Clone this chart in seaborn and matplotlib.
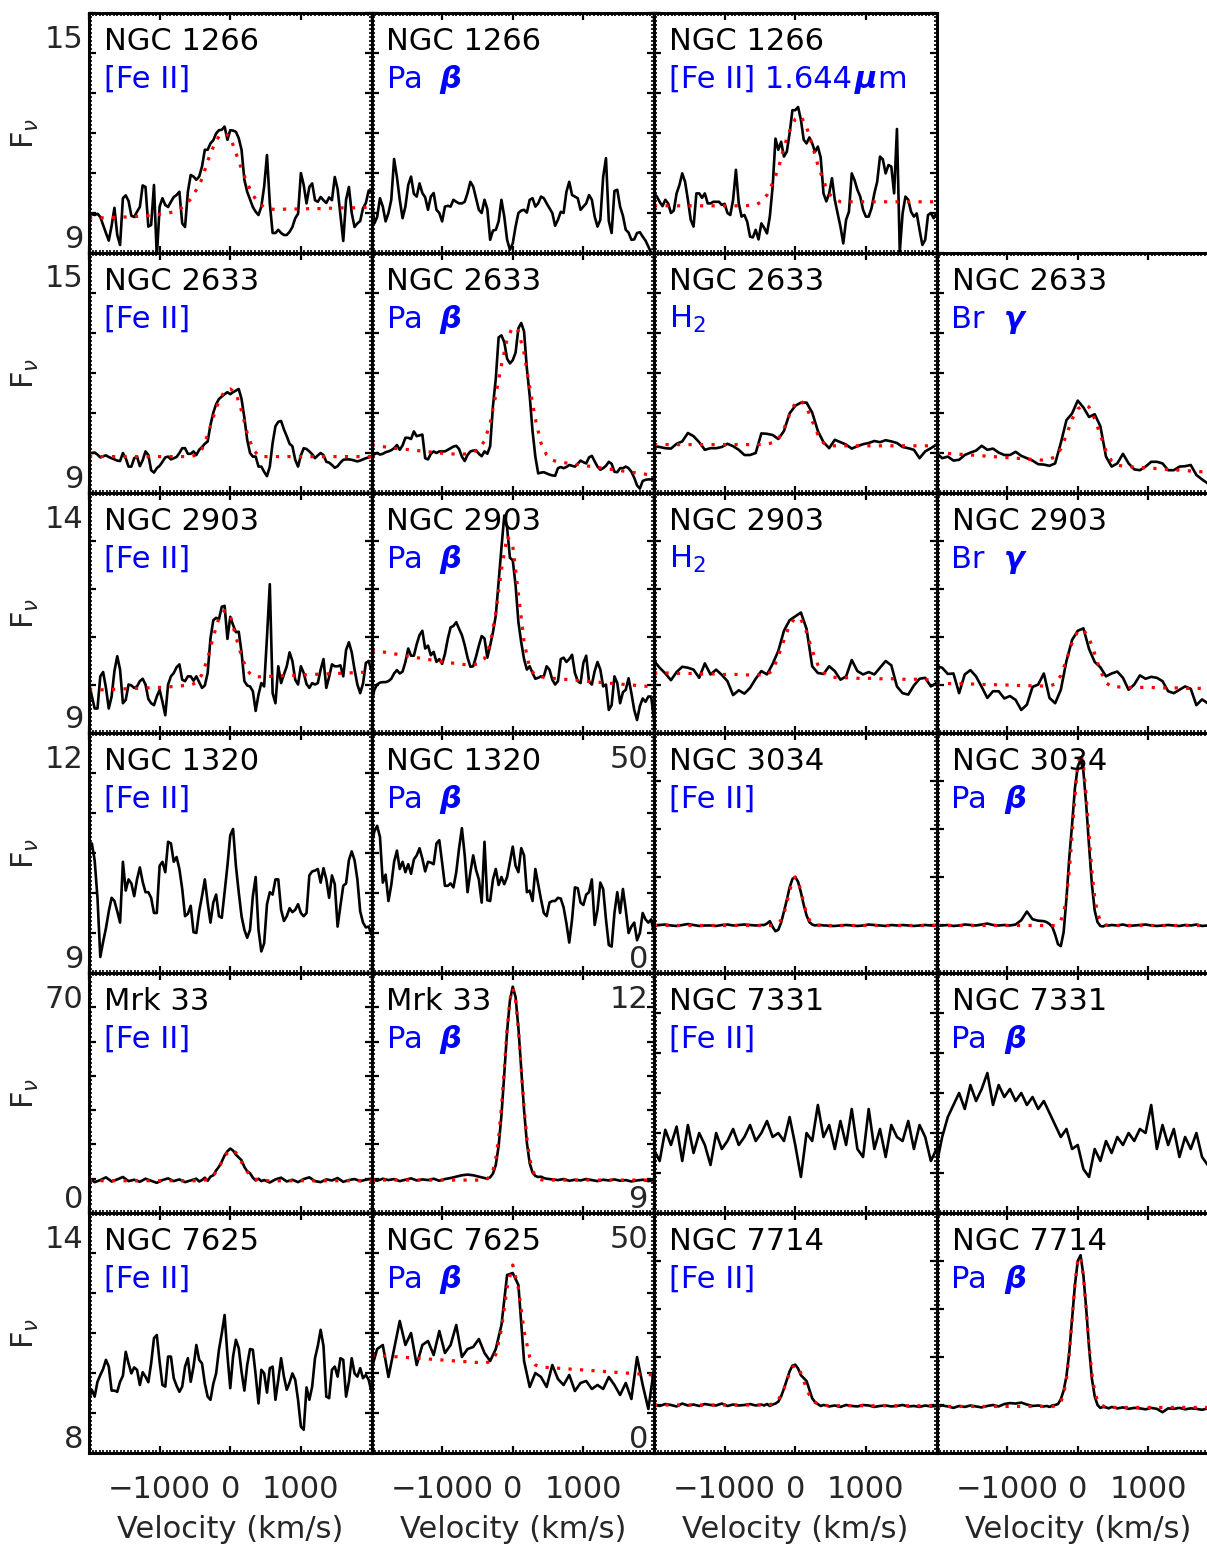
import matplotlib
matplotlib.use("Agg")
import matplotlib.pyplot as plt
from matplotlib.ticker import MultipleLocator, AutoMinorLocator
import seaborn as sns

# =========================
# DATA (velocity grids, km/s)
# =========================
VEL = [-2000, -1920, -1840, -1760, -1680, -1600, -1520, -1440, -1360, -1280,
       -1200, -1120, -1040, -960, -880, -800, -720, -640, -560, -480,
       -400, -320, -240, -160, -80, 0, 80, 160, 240, 320,
       400, 480, 560, 640, 720, 800, 880, 960, 1040, 1120,
       1200, 1280, 1360, 1440, 1520, 1600, 1680, 1760, 1840, 1920, 2000]

VEL40 = [-2000, -1960, -1920, -1880, -1840, -1800, -1760, -1720, -1680, -1640,
         -1600, -1560, -1520, -1480, -1440, -1400, -1360, -1320, -1280, -1240,
         -1200, -1160, -1120, -1080, -1040, -1000, -960, -920, -880, -840,
         -800, -760, -720, -680, -640, -600, -560, -520, -480, -440,
         -400, -360, -320, -280, -240, -200, -160, -120, -80, -40,
         0, 40, 80, 120, 160, 200, 240, 280, 320, 360,
         400, 440, 480, 520, 560, 600, 640, 680, 720, 760,
         800, 840, 880, 920, 960, 1000, 1040, 1080, 1120, 1160,
         1200, 1240, 1280, 1320, 1360, 1400, 1440, 1480, 1520, 1560,
         1600, 1640, 1680, 1720, 1760, 1800, 1840, 1880, 1920, 1960, 2000]

VEL_FINE = [-2000, -1920, -1840, -1760, -1680, -1600, -1520, -1440, -1360, -1280,
            -1200, -1120, -1040, -960, -880, -800, -720, -640, -560, -480,
            -440, -400, -360, -320, -280, -240, -200, -160, -120, -80, -40,
            0, 40, 80, 120, 160, 200, 240, 280, 320, 360, 400, 440,
            480, 560, 640, 720, 800, 880, 960, 1040, 1120, 1200, 1280,
            1360, 1440, 1520, 1600, 1680, 1760, 1840, 1920, 2000]

# --- NGC 1266 ---
N1266_FE = [9.95, 9.97, 9.95, 9.98, 9.9, 9.7, 9.5, 9.31, 9.68, 10.13,
            9.45, 9.2, 10.37, 10.44, 10.3, 9.93, 9.9, 10.03, 10.15, 10.69,
            10.65, 9.66, 9.7, 10.7, 8.9, 10.16, 10.37, 10.2, 10.15, 10.28,
            10.4, 10.45, 10.53, 9.74, 9.65, 10.53, 10.95, 10.91, 10.83, 10.91,
            11.16, 11.58, 11.58, 11.74, 11.82, 11.99, 12.07, 12.08, 12.16, 11.83,
            12.07, 12.06, 12.03, 11.87, 11.58, 10.83, 10.53, 10.34, 10.15, 10.03,
            9.95, 10.16, 10.66, 11.45, 10.24, 9.5, 9.5, 9.58, 9.5, 9.45,
            9.45, 9.53, 9.65, 9.87, 9.98, 11.0, 10.7, 10.24, 10.65, 10.74,
            10.32, 10.28, 10.4, 10.32, 10.25, 10.39, 10.32, 10.9, 10.6, 9.95,
            9.3, 10.33, 10.65, 10.0, 9.65, 9.74, 9.8, 10.12, 10.25, 10.56,
            10.53]
N1266_FE_FIT = [9.87, 9.87, 9.88, 9.88, 9.89, 9.89, 9.9, 9.9, 9.91, 9.92, 9.93, 9.95, 9.96, 9.98,
                10.0, 10.03, 10.1, 10.18, 10.35, 10.58, 10.85, 11.3, 11.65, 11.92, 12.0, 11.9, 11.5,
                11.1, 10.75, 10.45, 10.25, 10.15, 10.1, 10.09, 10.09, 10.1, 10.1, 10.1, 10.1, 10.11,
                10.11, 10.11, 10.12, 10.12, 10.12, 10.13, 10.13, 10.13, 10.14, 10.14, 10.14]
N1266_PAB = [10.41, 9.74, 9.9, 10.37, 10.16, 9.79, 10.0, 10.33, 11.35, 10.9,
             10.33, 9.87, 10.16, 10.7, 10.91, 10.48, 10.41, 10.74, 10.5, 10.39,
             10.08, 10.41, 10.5, 10.08, 10.0, 9.79, 10.16, 10.18, 10.16, 10.33,
             10.28, 10.24, 10.24, 10.28, 10.5, 10.78, 10.66, 10.37, 10.08, 10.0,
             10.33, 10.1, 9.33, 9.56, 9.58, 9.79, 10.33, 9.91, 9.33, 9.08,
             9.24, 9.66, 10.0, 10.06, 10.08, 10.01, 10.33, 10.37, 10.16, 10.24,
             10.41, 10.37, 10.24, 10.12, 10.0, 9.68, 9.83, 10.03, 10.0, 10.53,
             10.78, 10.45, 10.41, 10.37, 10.08, 10.16, 10.24, 10.45, 10.33, 9.91,
             9.66, 9.83, 10.9, 11.37, 9.8, 9.5, 10.55, 10.58, 10.16, 9.93,
             9.58, 9.51, 9.33, 9.34, 9.5, 9.52, 9.41, 9.31, 9.16, 9.0,
             8.95]
N1266_FE16 = [10.49, 10.41, 10.28, 10.17, 10.33, 10.24, 10.0, 10.06, 10.49, 10.7,
              10.99, 10.78, 10.33, 9.83, 9.66, 10.49, 10.49, 10.38, 10.49, 10.24,
              10.24, 10.28, 10.28, 10.28, 10.2, 10.23, 10.0, 9.95, 10.33, 11.08,
              10.24, 9.91, 9.95, 9.78, 9.41, 9.39, 9.58, 9.34, 9.74, 9.63,
              9.49, 9.91, 10.66, 11.86, 11.58, 11.78, 11.41, 11.53, 11.99, 12.57,
              12.57, 12.65, 12.33, 11.83, 11.74, 11.89, 11.74, 11.53, 11.66, 11.39,
              10.49, 10.29, 10.49, 10.87, 10.33, 9.99, 9.66, 9.24, 9.83, 10.03,
              10.99, 10.82, 10.58, 10.41, 10.08, 9.91, 9.91, 10.12, 10.49, 10.78,
              11.41, 11.34, 10.99, 11.2, 11.16, 10.49, 12.1, 9.03, 9.99, 10.41,
              10.33, 10.03, 9.91, 9.99, 9.58, 9.2, 9.33, 9.95, 10.0, 9.87,
              10.0]
N1266_FE16_FIT = [10.18, 10.18, 10.18, 10.18, 10.18, 10.18, 10.18, 10.18, 10.18, 10.18, 10.18, 10.18,
                  10.18, 10.18, 10.18, 10.18, 10.18, 10.19, 10.2, 10.28, 10.45, 10.75, 11.1, 11.65,
                  12.05, 12.35, 12.42, 12.15, 11.7, 11.2, 10.8, 10.48, 10.35, 10.28, 10.28, 10.28,
                  10.28, 10.28, 10.28, 10.28, 10.28, 10.28, 10.28, 10.28, 10.28, 10.28, 10.28, 10.28,
                  10.28, 10.28, 10.28]

# --- NGC 2633 ---
N2633_FE = [10.0, 10.0, 10.01, 9.96, 9.89, 9.92, 9.94, 9.9, 9.87, 9.84,
            9.81, 9.8, 10.0, 9.87, 9.66, 9.66, 9.87, 9.91, 9.67, 9.82,
            10.04, 9.95, 9.57, 9.51, 9.62, 9.68, 9.78, 9.89, 9.91, 9.84,
            9.87, 9.9, 10.0, 10.12, 10.12, 9.98, 9.98, 10.04, 9.95, 10.08,
            10.15, 10.23, 10.29, 10.7, 11.01, 11.22, 11.35, 11.41, 11.47, 11.52,
            11.47, 11.52, 11.56, 11.6, 11.35, 10.88, 10.33, 10.0, 9.91, 9.91,
            9.66, 9.66, 9.53, 9.42, 9.66, 10.25, 10.67, 10.78, 10.8, 10.59,
            10.42, 10.23, 10.17, 9.83, 9.66, 9.94, 10.12, 10.1, 10.04, 9.97,
            9.87, 9.94, 10.0, 9.95, 9.78, 9.76, 9.7, 9.63, 9.67, 9.76,
            9.83, 9.84, 9.84, 9.83, 9.81, 9.79, 9.81, 9.84, 9.87, 9.89,
            9.91]
N2633_FE_FIT = [9.91, 9.91, 9.91, 9.91, 9.91, 9.91, 9.91, 9.91, 9.91, 9.91, 9.91, 9.91, 9.91, 9.91,
                9.91, 9.91, 9.91, 9.91, 9.91, 9.95, 10.1, 10.45, 10.9, 11.3, 11.55, 11.6, 11.5, 11.05,
                10.5, 10.1, 9.93, 9.91, 9.91, 9.91, 9.91, 9.91, 9.91, 9.91, 9.91, 9.91, 9.91, 9.91,
                9.91, 9.91, 9.91, 9.91, 9.91, 9.91, 9.91, 9.91, 9.91]
N2633_PAB = [9.91, 9.97, 10.0, 9.96, 9.98, 10.02, 10.04, 10.07, 10.12, 10.2,
             10.08, 10.19, 10.38, 10.38, 10.35, 10.54, 10.42, 10.44, 10.46, 9.87,
             9.84, 9.98, 10.04, 10.0, 10.04, 10.04, 10.04, 10.08, 10.12, 10.16,
             10.18, 10.1, 9.91, 9.8, 9.95, 10.04, 10.06, 10.07, 9.98, 9.92,
             10.04, 9.98, 10.17, 11.18, 11.86, 12.89, 12.94, 12.77, 12.36, 12.24,
             12.32, 12.51, 13.12, 13.25, 13.04, 12.11, 11.43, 10.55, 9.91, 9.49,
             9.51, 9.52, 9.49, 9.46, 9.44, 9.43, 9.62, 9.65, 9.62, 9.65,
             9.7, 9.68, 9.66, 9.73, 9.81, 9.77, 9.74, 9.89, 9.93, 9.79,
             9.66, 9.58, 9.62, 9.68, 9.78, 9.73, 9.53, 9.52, 9.62, 9.62,
             9.66, 9.62, 9.53, 9.38, 9.19, 9.11, 9.3, 9.33, 9.34, 9.34,
             9.36]
N2633_PAB_FIT = [10.2, 10.18, 10.16, 10.14, 10.12, 10.1, 10.09, 10.08, 10.06, 10.05, 10.03, 10.02,
                 10.0, 9.99, 9.98, 9.97, 9.97, 9.98, 10.02, 10.1, 10.3, 10.75, 11.45, 12.2, 12.85,
                 13.15, 13.05, 12.5, 11.65, 10.85, 10.25, 9.95, 9.82, 9.78, 9.76, 9.74, 9.72, 9.7,
                 9.68, 9.66, 9.64, 9.62, 9.6, 9.58, 9.56, 9.54, 9.52, 9.5, 9.48, 9.46, 9.44]
N2633_H2 = [10.17, 10.15, 10.12, 10.11, 10.23, 10.29, 10.5, 10.42, 10.27, 10.08, 10.12, 10.12, 10.15,
            10.23, 10.17, 10.08, 9.95, 9.95, 10.0, 10.49, 10.48, 10.45, 10.35, 10.55, 10.99, 11.18,
            11.26, 11.26, 11.01, 10.55, 10.27, 10.12, 10.33, 10.27, 10.21, 10.11, 10.17, 10.22,
            10.25, 10.3, 10.27, 10.32, 10.29, 10.25, 10.15, 10.12, 10.08, 9.87, 10.04, 10.12, 10.21]
N2633_H2_FIT = [10.21, 10.21, 10.21, 10.21, 10.21, 10.21, 10.21, 10.21, 10.21, 10.21, 10.21, 10.21,
                10.21, 10.21, 10.21, 10.21, 10.21, 10.21, 10.21, 10.21, 10.22, 10.26, 10.35, 10.6,
                10.97, 11.25, 11.31, 11.14, 10.8, 10.46, 10.25, 10.18, 10.18, 10.18, 10.18, 10.18,
                10.18, 10.18, 10.18, 10.18, 10.18, 10.18, 10.18, 10.18, 10.18, 10.18, 10.18, 10.18,
                10.18, 10.18, 10.18]
N2633_BRG = [10.0, 9.87, 9.91, 9.81, 9.83, 9.95, 10.01, 10.06, 10.18, 10.08, 10.11, 10.01, 9.95, 9.95,
             10.03, 9.93, 9.87, 9.81, 9.72, 9.71, 9.68, 9.74, 10.25, 10.82, 10.99, 11.31, 11.14, 10.9,
             10.97, 10.67, 9.91, 9.66, 9.74, 9.98, 9.74, 9.59, 9.57, 9.66, 9.78, 9.78, 9.74, 9.57,
             9.57, 9.66, 9.67, 9.7, 9.45, 9.34, 9.24, 9.2, 9.2]
N2633_BRG_FIT = [10.0, 10.0, 9.99, 9.98, 9.97, 9.96, 9.95, 9.94, 9.93, 9.92, 9.91, 9.9, 9.89, 9.88,
                 9.87, 9.86, 9.85, 9.84, 9.83, 9.82, 9.85, 9.9, 10.1, 10.45, 10.85, 11.1, 11.2, 11.15,
                 10.85, 10.45, 10.05, 9.8, 9.7, 9.67, 9.66, 9.65, 9.64, 9.63, 9.62, 9.61, 9.6, 9.59,
                 9.58, 9.57, 9.56, 9.55, 9.54, 9.53, 9.52, 9.51, 9.5]

# --- NGC 2903 ---
N2903_FE = [10.04, 9.77, 9.51, 9.51, 10.18, 10.27, 9.94, 9.51, 9.76, 10.29,
            10.6, 10.32, 9.62, 9.69, 10.01, 9.99, 9.94, 9.97, 10.08, 10.13,
            10.01, 9.71, 9.62, 9.58, 9.76, 9.9, 9.65, 9.37, 10.01, 10.18,
            10.25, 10.37, 10.43, 10.11, 10.08, 10.18, 10.18, 10.09, 10.18, 10.06,
            9.94, 9.99, 10.25, 10.97, 11.35, 11.4, 11.37, 11.63, 11.65, 10.96,
            11.42, 11.25, 11.1, 11.11, 10.68, 10.08, 9.99, 9.97, 9.87, 9.46,
            9.8, 10.04, 9.97, 11.0, 12.1, 9.83, 9.62, 10.39, 10.04, 10.22,
            10.39, 10.68, 10.5, 10.11, 10.01, 10.39, 10.25, 10.02, 9.94, 10.04,
            10.01, 10.04, 10.32, 10.54, 9.94, 10.17, 10.43, 10.39, 10.39, 10.41,
            10.18, 10.73, 10.89, 10.68, 10.32, 10.01, 9.83, 10.03, 10.46, 10.5,
            10.29]
N2903_FE_FIT = [9.9, 9.9, 9.9, 9.9, 9.91, 9.91, 9.92, 9.92, 9.93, 9.93, 9.94, 9.94, 9.95, 9.95, 9.96,
                9.97, 9.98, 9.99, 10.0, 10.05, 10.22, 10.55, 11.0, 11.4, 11.55, 11.45, 11.0, 10.6,
                10.3, 10.18, 10.17, 10.18, 10.18, 10.19, 10.19, 10.2, 10.2, 10.21, 10.21, 10.22,
                10.22, 10.23, 10.23, 10.24, 10.24, 10.25, 10.25, 10.26, 10.26, 10.27, 10.27]
N2903_PAB = [9.62, 9.9, 10.01, 10.05, 10.06, 10.06, 10.08, 10.13, 10.24, 10.31,
             10.24, 10.28, 10.48, 10.76, 10.61, 10.61, 10.85, 11.04, 11.13, 10.76,
             10.82, 10.62, 10.69, 10.48, 10.54, 10.44, 10.65, 10.96, 11.2, 11.23,
             11.31, 11.17, 11.04, 10.83, 10.57, 10.38, 10.39, 10.59, 10.82, 11.02,
             10.97, 10.57, 10.82, 11.1, 11.45, 12.15, 12.86, 13.53, 13.28, 12.65,
             12.6, 12.08, 11.31, 10.89, 10.54, 10.32, 10.39, 10.25, 10.13, 10.15,
             10.18, 10.18, 10.39, 10.32, 10.11, 10.01, 10.08, 10.54, 10.57, 10.48,
             10.54, 10.63, 10.25, 10.08, 10.04, 10.46, 10.61, 10.07, 10.01, 10.29,
             10.48, 10.32, 9.97, 10.01, 9.48, 9.58, 10.18, 10.04, 9.62, 9.85,
             9.9, 10.14, 9.83, 9.48, 9.27, 9.56, 9.72, 9.65, 9.76, 9.76,
             9.27]
N2903_PAB_FIT = [10.72, 10.71, 10.69, 10.67, 10.65, 10.63, 10.61, 10.59, 10.57, 10.55, 10.53, 10.52,
                 10.5, 10.48, 10.46, 10.45, 10.43, 10.42, 10.42, 10.45, 10.55, 10.85, 11.5, 12.4,
                 13.1, 12.9, 11.9, 10.9, 10.35, 10.2, 10.17, 10.15, 10.14, 10.13, 10.12, 10.11, 10.1,
                 10.09, 10.08, 10.07, 10.06, 10.05, 10.04, 10.03, 10.02, 10.01, 10.0, 9.99, 9.98,
                 9.97, 9.96]
N2903_H2 = [10.5, 10.36, 10.24, 10.1, 10.27, 10.38, 10.36, 10.32, 10.15, 10.45, 10.22, 10.32, 10.21,
            10.08, 9.79, 9.89, 9.82, 9.94, 10.13, 10.29, 10.22, 10.44, 10.71, 11.13, 11.35, 11.43,
            11.51, 11.17, 10.39, 10.25, 10.23, 10.39, 10.29, 10.11, 10.18, 10.52, 10.29, 10.22,
            10.27, 10.22, 10.36, 10.5, 10.41, 9.97, 9.83, 9.8, 9.99, 10.13, 10.15, 9.97, 10.04]
N2903_H2_FIT = [10.25, 10.25, 10.25, 10.25, 10.24, 10.24, 10.24, 10.24, 10.23, 10.23, 10.23, 10.23,
                10.22, 10.22, 10.22, 10.22, 10.21, 10.21, 10.21, 10.21, 10.22, 10.3, 10.6, 10.93,
                11.25, 11.4, 11.37, 11.1, 10.72, 10.42, 10.26, 10.18, 10.16, 10.15, 10.15, 10.15,
                10.14, 10.14, 10.14, 10.14, 10.13, 10.13, 10.13, 10.13, 10.12, 10.12, 10.12, 10.12,
                10.11, 10.11, 10.11]
N2903_BRG = [10.39, 10.36, 10.23, 10.24, 9.83, 10.22, 10.31, 10.18, 9.96, 9.73, 9.87, 9.87, 9.72, 9.77,
             9.69, 9.48, 9.59, 9.96, 10.01, 10.24, 9.73, 9.62, 9.9, 10.5, 10.94, 11.13, 11.18, 10.75,
             10.48, 10.37, 10.18, 10.24, 10.28, 10.15, 9.9, 10.01, 10.2, 10.13, 10.17, 10.15, 10.08,
             9.87, 9.83, 9.9, 9.97, 9.92, 9.58, 9.7, 9.62, 9.69, 9.62]
N2903_BRG_FIT = [10.04, 10.04, 10.03, 10.03, 10.03, 10.02, 10.02, 10.02, 10.01, 10.01, 10.01, 10.0,
                 10.0, 10.0, 9.99, 9.99, 9.99, 9.98, 9.98, 9.98, 9.98, 10.02, 10.2, 10.52, 10.88,
                 11.12, 11.15, 10.98, 10.65, 10.3, 10.05, 9.96, 9.96, 9.96, 9.95, 9.95, 9.95, 9.95,
                 9.95, 9.94, 9.94, 9.94, 9.94, 9.94, 9.93, 9.93, 9.93, 9.93, 9.93, 9.92, 9.92]

# --- NGC 1320 ---
N1320_FE = [10.56, 10.62, 10.41, 9.94, 9.2, 9.39, 9.56, 9.77, 9.94, 9.9,
            9.77, 9.63, 10.39, 10.03, 10.17, 10.12, 9.96, 10.17, 10.32, 10.14,
            10.01, 10.01, 9.94, 9.75, 9.75, 10.34, 10.39, 10.26, 10.64, 10.62,
            10.39, 10.45, 10.3, 10.05, 9.71, 9.74, 9.84, 9.51, 9.5, 9.77,
            9.96, 10.17, 9.88, 9.63, 9.88, 9.98, 9.71, 9.69, 10.01, 10.34,
            10.72, 10.8, 10.34, 10.01, 9.71, 9.54, 9.44, 9.54, 9.96, 10.2,
            9.54, 9.27, 9.37, 9.86, 10.01, 9.98, 10.17, 10.17, 9.79, 9.65,
            9.71, 9.81, 9.76, 9.79, 9.86, 9.75, 9.71, 9.75, 10.22, 10.27,
            10.28, 10.3, 10.13, 10.31, 10.17, 9.94, 10.22, 10.11, 9.58, 9.84,
            10.09, 10.12, 10.41, 10.52, 10.41, 10.17, 9.77, 9.63, 9.57, 9.58,
            9.48]
N1320_PAB = [10.6, 10.77, 10.84, 10.7, 10.13, 10.23, 9.9, 10.1, 10.39, 10.53,
             10.3, 10.39, 10.26, 10.36, 10.24, 10.42, 10.47, 10.56, 10.43, 10.27,
             10.39, 10.38, 10.36, 10.62, 10.66, 10.38, 10.09, 10.09, 10.12, 10.07,
             10.26, 10.56, 10.81, 10.47, 10.01, 10.26, 10.47, 10.29, 10.17, 9.88,
             10.64, 9.91, 9.9, 10.17, 10.3, 10.1, 10.2, 10.11, 10.2, 10.39,
             10.58, 10.34, 10.26, 10.56, 10.47, 10.01, 10.03, 9.9, 10.3, 10.11,
             9.92, 9.75, 9.71, 9.88, 9.9, 9.9, 9.94, 9.93, 9.82, 9.62,
             9.38, 9.67, 10.07, 10.06, 9.88, 9.85, 9.98, 10.01, 10.17, 9.6,
             9.79, 10.13, 10.05, 9.67, 9.35, 9.33, 9.75, 10.01, 9.75, 10.05,
             9.79, 9.5, 9.58, 9.63, 9.41, 9.5, 9.75, 9.67, 9.63, 9.67,
             9.5]

# --- NGC 3034 (fine grid) ---
N3034_FE = [9.9, 10.0, 10.1, 9.9, 9.8, 10.0, 10.2, 10.0, 9.8, 9.9, 9.9, 9.8, 10.0, 10.1, 9.9, 10.0,
            10.1, 10.0, 9.9, 10.0,
            10.0, 10.3, 10.8, 9.6, 8.7, 9.0, 10.5, 12.8, 15.2, 17.8, 19.6, 20.0, 19.0, 16.8, 14.2,
            12.0, 10.6, 10.1, 9.9, 10.0, 10.0, 9.9, 9.9,
            9.8, 9.8, 9.9, 10.0, 9.9, 9.8, 9.9, 10.1, 10.0, 9.9, 9.8, 10.0, 9.9, 10.0, 9.9, 9.8,
            9.9, 10.0, 9.9, 10.0]
N3034_FE_FIT = [9.9] * 23 + [9.94, 10.04, 10.34, 11.05, 12.42, 14.53, 17.04, 19.16, 20.0, 19.16,
                             17.04, 14.53, 12.42, 11.05, 10.34, 10.04, 9.94] + [9.9] * 23
N3034_PAB = [9.8, 9.9, 10.0, 9.8, 9.9, 10.1, 10.0, 9.9, 10.1, 10.3, 10.0, 9.9, 10.0, 9.9, 10.1, 11.0,
             12.8, 11.2, 10.9, 10.8,
             10.6, 10.2, 9.6, 8.0, 6.0, 5.6, 8.5, 15.5, 24.0, 31.0, 38.5, 43.0, 44.5, 42.0, 35.0,
             26.5, 18.5, 13.0, 10.6, 9.8, 9.7, 10.0, 9.9,
             10.0, 9.9, 10.1, 9.8, 9.9, 10.0, 10.1, 9.9, 9.8, 9.9, 10.0, 9.9, 9.8, 10.0, 9.9, 10.1,
             9.8, 9.9, 10.0, 9.9]
N3034_PAB_FIT = [9.9] * 24 + [10.25, 10.93, 12.5, 15.8, 21.2, 28.7, 36.8, 43.4, 45.9, 43.4, 36.8,
                              28.7, 21.2, 15.8, 12.5, 10.93, 10.25, 10.0] + [9.9] * 21

# --- Mrk 33 (fine grid) ---
MRK33_FE = [10.2, 9.0, 9.6, 10.4, 9.2, 9.8, 10.5, 9.3, 9.7, 9.1, 10.0, 9.4, 8.8, 9.6, 10.1, 9.3, 9.8,
            9.0, 9.5, 10.0,
            9.2, 9.6, 10.3, 9.4, 10.6, 11.0, 12.4, 13.5, 15.0, 16.8, 18.0, 18.8, 18.2, 17.0, 16.2,
            15.4, 13.4, 12.2, 11.6, 10.3, 9.5, 10.0, 9.3,
            9.6, 8.9, 9.8, 10.3, 9.2, 9.7, 9.0, 9.9, 10.4, 9.3, 9.0, 9.8, 9.5, 10.2, 9.1, 9.6, 9.9,
            9.3, 9.7, 10.0]
MRK33_FE_FIT = [9.4] * 20 + [9.44, 9.5, 9.62, 9.87, 10.3, 11.0, 12.0, 13.33, 14.86, 16.4, 17.6, 18.3,
                             18.3, 17.6, 16.4, 14.86, 13.33, 12.0, 11.0, 10.3, 9.87, 9.62, 9.5,
                             9.44] + [9.4] * 19
MRK33_PAB = [9.8, 9.4, 10.0, 9.6, 9.9, 9.3, 9.7, 10.1, 9.5, 9.8, 9.6, 10.0, 9.4, 9.9, 10.2, 10.6,
             11.0, 11.2, 11.0, 10.6,
             10.4, 10.2, 10.0, 10.4, 11.5, 14.0, 19.5, 28.5, 40.5, 53.0, 62.0, 66.0, 63.0, 54.0,
             42.0, 30.0, 20.5, 14.5, 11.8, 10.8, 10.5, 10.6, 10.2,
             10.0, 9.8, 9.6, 9.9, 9.4, 9.7, 9.5, 9.9, 9.6, 9.3, 9.7, 9.5, 9.8, 9.4, 9.6, 9.2, 9.5,
             9.7, 9.3, 9.6]
MRK33_PAB_FIT = [9.6] * 21 + [9.7, 10.0, 10.8, 12.5, 15.9, 21.9, 30.9, 42.1, 53.6, 62.3, 65.6, 62.3,
                              53.6, 42.1, 30.9, 21.9, 15.9, 12.5, 10.8, 10.0, 9.7] + [9.6] * 21

# --- NGC 7331 ---
N7331_FE = [9.79, 9.65, 10.04, 9.85, 10.08, 9.65, 10.1, 9.75, 10.0, 9.85, 9.6, 10.0, 9.8, 9.9, 10.05,
            9.85, 9.95, 10.1, 9.9, 10.0, 10.15, 9.95, 10.0, 9.9, 10.2, 9.85, 9.45, 10.0, 9.9, 10.35,
            9.95, 10.1, 9.8, 10.15, 9.85, 10.3, 9.8, 9.7, 10.3, 9.8, 10.05, 9.7, 10.1, 9.95, 9.9,
            10.15, 9.8, 10.1, 9.95, 9.65, 9.8]
N7331_PAB = [9.6, 9.95, 10.2, 10.35, 10.5, 10.3, 10.6, 10.4, 10.55, 10.75, 10.35, 10.6, 10.45, 10.55,
             10.4, 10.5, 10.35, 10.45, 10.3, 10.4, 10.25, 10.1, 9.95, 10.05, 9.8, 9.85, 9.55, 9.45,
             9.8, 9.65, 9.9, 9.75, 9.95, 9.85, 10.0, 9.9, 10.05, 10.0, 10.35, 9.8, 10.1, 9.85, 10.05,
             9.7, 9.95, 9.8, 10.0, 9.7, 9.6, 9.8, 9.7]

# --- NGC 7625 ---
N7625_FE = [9.33, 9.58, 9.41, 9.78, 9.95, 10.1, 10.33, 10.16, 9.56, 9.56,
            9.53, 9.78, 9.93, 10.53, 10.24, 9.99, 10.14, 10.08, 9.7, 10.02,
            9.91, 9.77, 10.24, 10.87, 10.95, 10.28, 9.7, 9.66, 10.41, 10.41,
            9.87, 9.68, 9.53, 9.66, 10.16, 10.37, 9.78, 10.16, 10.7, 10.33,
            10.24, 9.74, 9.41, 9.33, 9.73, 9.99, 10.58, 10.99, 11.45, 10.45,
            9.62, 10.41, 10.83, 10.62, 10.03, 9.56, 10.2, 10.6, 10.58, 9.95,
            9.24, 10.08, 9.99, 9.51, 10.12, 10.16, 9.33, 9.83, 10.37, 9.91,
            9.58, 9.76, 9.99, 9.83, 9.33, 8.66, 8.58, 9.64, 9.33, 9.66,
            10.37, 10.68, 11.08, 10.68, 9.41, 9.37, 10.08, 10.16, 9.91, 10.37,
            10.33, 9.41, 9.78, 10.37, 9.99, 9.91, 10.12, 9.87, 9.95, 9.83,
            9.53]
N7625_PAB = [10.1, 10.6, 10.7, 9.9, 10.6, 11.3, 10.7, 11.0, 10.2, 10.7, 10.8, 10.45, 11.05, 10.5, 10.7,
             11.2, 10.4, 10.6, 10.65, 10.85, 10.5, 10.3, 10.6, 11.2, 12.45, 12.5, 12.2, 10.3, 9.65,
             10.0, 9.9, 9.65, 10.2, 9.85, 9.7, 9.95, 9.55, 9.75, 9.8, 9.6, 9.7, 9.6, 9.9, 9.7, 9.45,
             9.75, 9.35, 10.4, 9.7, 9.1, 10.1]
N7625_PAB_FIT = [10.45, 10.44, 10.43, 10.42, 10.41, 10.4, 10.39, 10.38, 10.37, 10.36, 10.35, 10.34,
                 10.33, 10.32, 10.31, 10.3, 10.29, 10.28, 10.27, 10.26, 10.25, 10.28, 10.46, 11.09,
                 12.13, 12.7, 12.11, 11.05, 10.4, 10.2, 10.15, 10.14, 10.13, 10.12, 10.11, 10.1,
                 10.09, 10.08, 10.07, 10.06, 10.05, 10.04, 10.03, 10.02, 10.01, 10.0, 9.99, 9.98,
                 9.97, 9.96, 9.95]

# --- NGC 7714 (fine grid) ---
N7714_FE = [10.1, 9.8, 10.2, 10.0, 9.7, 10.3, 9.9, 10.1, 9.8, 10.2, 10.0, 9.9, 10.3, 9.8, 10.1, 9.9,
            10.0, 10.2, 9.9, 10.1,
            9.9, 10.2, 9.8, 10.1, 10.3, 10.7, 11.8, 13.4, 15.2, 17.0, 18.2, 18.4, 17.6, 16.2, 15.6,
            15.0, 13.2, 11.4, 10.6, 10.2, 9.8, 10.0, 9.9,
            9.7, 9.9, 9.6, 10.0, 9.8, 9.7, 10.0, 9.9, 9.6, 9.8, 9.9, 9.7, 9.8, 10.0, 9.7, 9.8, 9.6,
            9.9, 9.7, 9.8]
N7714_FE_FIT = [10.0] * 21 + [10.03, 10.09, 10.24, 10.55, 11.12, 12.07, 13.41, 15.04, 16.64, 17.85,
                              18.3, 17.85, 16.64, 15.04, 13.41, 12.07, 11.12, 10.55, 10.24, 10.09,
                              10.0, 9.9] + [9.85] * 20
N7714_PAB = [9.6, 9.9, 9.7, 9.4, 9.8, 9.6, 9.9, 9.7, 9.5, 9.8, 10.0, 9.7, 10.2, 10.4, 10.3, 10.5,
             10.1, 9.8, 9.9, 9.7,
             9.8, 9.6, 9.9, 10.0, 10.2, 11.2, 13.0, 16.0, 21.0, 28.0, 35.0, 40.0, 41.2, 37.0, 30.0,
             22.0, 15.5, 11.8, 10.0, 9.4, 9.6, 9.5, 9.3,
             9.6, 9.3, 9.5, 9.2, 9.4, 9.3, 9.1, 9.4, 9.2, 8.5, 9.3, 9.2, 9.4, 9.1, 9.3, 9.2, 9.0,
             9.3, 9.1, 9.2]
N7714_PAB_FIT = [9.7] * 23 + [9.8, 10.0, 10.6, 12.2, 15.4, 20.7, 27.8, 35.2, 40.2, 40.9, 36.8, 29.8,
                              22.4, 16.5, 12.8, 10.9, 10.1, 9.8] + [9.5] * 22

# row, col, galaxy, line, data velocity, flux, fit velocity, fit, (ymin, ymax), major, minor, labelled
PANELS = [
    (0, 0, "NGC 1266", "feii", VEL40, N1266_FE, VEL, N1266_FE_FIT, (9, 15), 1, 10, True),
    (0, 1, "NGC 1266", "pab", VEL40, N1266_PAB, None, None, (9, 15), 1, 10, False),
    (0, 2, "NGC 1266", "feii1644", VEL40, N1266_FE16, VEL, N1266_FE16_FIT, (9, 15), 1, 10, False),
    (1, 0, "NGC 2633", "feii", VEL40, N2633_FE, VEL, N2633_FE_FIT, (9, 15), 1, 10, True),
    (1, 1, "NGC 2633", "pab", VEL40, N2633_PAB, VEL, N2633_PAB_FIT, (9, 15), 1, 10, False),
    (1, 2, "NGC 2633", "h2", VEL, N2633_H2, VEL, N2633_H2_FIT, (9, 15), 1, 10, False),
    (1, 3, "NGC 2633", "brg", VEL, N2633_BRG, VEL, N2633_BRG_FIT, (9, 15), 1, 10, False),
    (2, 0, "NGC 2903", "feii", VEL40, N2903_FE, VEL, N2903_FE_FIT, (9, 14), 1, 12, True),
    (2, 1, "NGC 2903", "pab", VEL40, N2903_PAB, VEL, N2903_PAB_FIT, (9, 14), 1, 12, False),
    (2, 2, "NGC 2903", "h2", VEL, N2903_H2, VEL, N2903_H2_FIT, (9, 14), 1, 12, False),
    (2, 3, "NGC 2903", "brg", VEL, N2903_BRG, VEL, N2903_BRG_FIT, (9, 14), 1, 12, False),
    (3, 0, "NGC 1320", "feii", VEL40, N1320_FE, None, None, (9, 12), 0.5, 10, True),
    (3, 1, "NGC 1320", "pab", VEL40, N1320_PAB, None, None, (9, 12), 0.5, 10, False),
    (3, 2, "NGC 3034", "feii", VEL_FINE, N3034_FE, VEL_FINE, N3034_FE_FIT, (0, 50), 10, 12, True),
    (3, 3, "NGC 3034", "pab", VEL_FINE, N3034_PAB, VEL_FINE, N3034_PAB_FIT, (0, 50), 10, 12, False),
    (4, 0, "Mrk 33", "feii", VEL_FINE, MRK33_FE, VEL_FINE, MRK33_FE_FIT, (0, 70), 10, 8, True),
    (4, 1, "Mrk 33", "pab", VEL_FINE, MRK33_PAB, VEL_FINE, MRK33_PAB_FIT, (0, 70), 10, 8, False),
    (4, 2, "NGC 7331", "feii", VEL, N7331_FE, None, None, (9, 12), 0.5, 10, True),
    (4, 3, "NGC 7331", "pab", VEL, N7331_PAB, None, None, (9, 12), 0.5, 10, False),
    (5, 0, "NGC 7625", "feii", VEL40, N7625_FE, None, None, (8, 14), 1, 10, True),
    (5, 1, "NGC 7625", "pab", VEL, N7625_PAB, VEL, N7625_PAB_FIT, (8, 14), 1, 10, False),
    (5, 2, "NGC 7714", "feii", VEL_FINE, N7714_FE, VEL_FINE, N7714_FE_FIT, (0, 50), 10, 12, True),
    (5, 3, "NGC 7714", "pab", VEL_FINE, N7714_PAB, VEL_FINE, N7714_PAB_FIT, (0, 50), 10, 12, False),
]

# =========================
# STYLE / LAYOUT
# =========================
sns.set_theme(style="ticks")
plt.rcParams["font.family"] = ["DejaVu Sans"]
plt.rcParams["mathtext.fontset"] = "dejavusans"

W, H = 1207, 1548
COL_X = [89, 371.5, 654, 936.5]
COL_W = 282.5
ROW_TOP = 13
ROW_H = 240
FS = 22
BLUE = "#0000ff"
NAME_Y = 1 - 37 / ROW_H
LINE_Y = 1 - 75 / ROW_H

fig = plt.figure(figsize=(W / 100, H / 100), dpi=100)


def chain(ax, prev, text, dx, **kw):
    return ax.annotate(text, xy=(1, 0), xycoords=prev, xytext=(dx, 0),
                       textcoords="offset points", va="bottom", ha="left",
                       fontsize=FS, color=BLUE, **kw)


def line_label(ax, key):
    x0 = 15 / COL_W
    if key == "feii":
        ax.text(x0, LINE_Y, "[Fe II]", color=BLUE, fontsize=FS, transform=ax.transAxes)
    elif key == "feii1644":
        t = ax.text(x0, LINE_Y, "[Fe II] 1.644", color=BLUE, fontsize=FS,
                    transform=ax.transAxes)
        t2 = chain(ax, t, "\u03bc", 2, fontweight="bold", fontstyle="italic")
        chain(ax, t2, "m", 0)
    elif key == "h2":
        ax.text(x0, LINE_Y, "H$_2$", color=BLUE, fontsize=FS, transform=ax.transAxes)
    elif key == "pab":
        t = ax.text(x0, LINE_Y, "Pa", color=BLUE, fontsize=FS, transform=ax.transAxes)
        chain(ax, t, "\u03b2", 12, fontweight="bold", fontstyle="italic")
    elif key == "brg":
        t = ax.text(x0, LINE_Y, "Br", color=BLUE, fontsize=FS, transform=ax.transAxes)
        chain(ax, t, "\u03b3", 14, fontweight="bold", fontstyle="italic")


for (row, col, gal, key, vel, flux, fvel, fit, (lo, hi), step, nminor,
     labelled) in PANELS:
    left = COL_X[col] / W
    bottom = 1 - (ROW_TOP + ROW_H * (row + 1)) / H
    ax = fig.add_axes([left, bottom, COL_W / W, ROW_H / H])
    ax.set_facecolor("white")

    sns.lineplot(x=vel, y=flux, ax=ax, color="black", linewidth=1.9,
                 estimator=None, sort=False)
    if fit is not None:
        sns.lineplot(x=fvel, y=fit, ax=ax, color="red", linewidth=2.3,
                     linestyle=(0, (1, 2.6)), estimator=None, sort=False)

    ax.set_xlim(-2000, 2000)
    ax.set_ylim(lo, hi)
    ax.xaxis.set_major_locator(MultipleLocator(1000))
    ax.xaxis.set_minor_locator(MultipleLocator(50))
    ax.yaxis.set_major_locator(MultipleLocator(step))
    ax.yaxis.set_minor_locator(AutoMinorLocator(nminor))
    ax.tick_params(which="both", direction="in", top=True, right=True,
                   labelleft=False, labelbottom=False, color="black")
    ax.tick_params(which="major", length=5, width=1.6)
    ax.tick_params(which="minor", length=2.2, width=1.2)
    for sp in ax.spines.values():
        sp.set_linewidth(2.2)
        sp.set_color("black")
    ax.set_xlabel("")
    ax.set_ylabel("")
    ax.grid(False)

    ax.text(15 / COL_W, NAME_Y, gal, fontsize=FS, color="black", transform=ax.transAxes)
    line_label(ax, key)

    if labelled:
        ax.text(-6 / COL_W, 1 - 26 / ROW_H, f"{hi:g}", fontsize=FS, ha="right", va="center",
                transform=ax.transAxes)
        ax.text(-6 / COL_W, 14 / ROW_H, f"{lo:g}", fontsize=FS, ha="right", va="center",
                transform=ax.transAxes)
    if col == 0:
        ax.text(-64 / COL_W, 0.5, r"F$_\nu$", fontsize=FS, rotation=90, ha="center",
                va="center", transform=ax.transAxes)

    if row == 5:
        ax.set_xticks([-1000, 0, 1000])
        ax.tick_params(which="major", labelbottom=True, labelsize=FS, pad=16)
        ax.text(0.5, -77 / ROW_H, "Velocity (km/s)", fontsize=FS, ha="center",
                va="center", transform=ax.transAxes)

fig.savefig("out.png", dpi=100)
